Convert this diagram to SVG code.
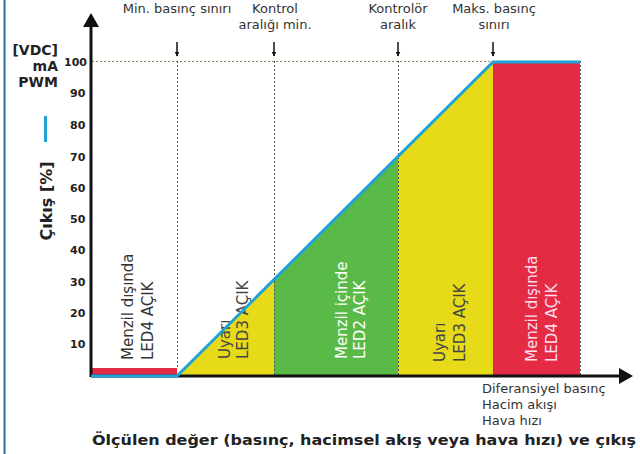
<svg xmlns="http://www.w3.org/2000/svg" width="640" height="454" viewBox="0 0 640 454">
<style>
.t{font-family:"DejaVu Sans","Verdana",sans-serif;fill:#333}
.b{font-weight:bold;fill:#222}
.tick{font-family:"DejaVu Sans",sans-serif;font-weight:bold;font-size:11px;fill:#222}
.unit{font-family:"DejaVu Sans",sans-serif;font-weight:bold;font-size:14px;fill:#222}
.lab{font-family:"DejaVu Sans",sans-serif;font-size:15px}
.dot{stroke:#555;stroke-width:1;stroke-dasharray:2,2;fill:none}
.dot2{stroke:#8a8460;stroke-width:1.2;stroke-dasharray:2,2;fill:none}
.arr{stroke:#111;stroke-width:1.5}
</style>
<defs>
<marker id="ah" viewBox="0 0 10 10" refX="9" refY="5" markerWidth="5" markerHeight="5" orient="auto" markerUnits="userSpaceOnUse"><path d="M0,0 L10,5 L0,10 z" fill="#111"/></marker>
</defs>
<rect width="640" height="454" fill="#fff"/>
<line x1="4.5" y1="0" x2="4.5" y2="454" stroke="#2f6f9e" stroke-width="2"/>

<g id="zone1"><rect x="91" y="368" width="86" height="7" fill="#e52b44"/>
<text class="lab" fill="#333" transform="translate(133,360) rotate(-90)">Menzil dışında</text>
<text class="lab" fill="#333" transform="translate(153,360) rotate(-90)">LED4 AÇIK</text></g>
<g id="zone2"><polygon points="177,376 274,279 274,376" fill="#e6da19"/>
<text class="lab" fill="#444" transform="translate(230,359) rotate(-90)">Uyarı</text>
<text class="lab" fill="#444" transform="translate(248,359) rotate(-90)">LED3 AÇIK</text></g>
<g id="zone3"><polygon points="274,279 398,156 398,376 274,376" fill="#5aba48"/>
<text class="lab" fill="#fff" transform="translate(347,359) rotate(-90)">Menzil içinde</text>
<text class="lab" fill="#fff" transform="translate(365,359) rotate(-90)">LED2 AÇIK</text></g>
<g id="zone4"><polygon points="398,156 493,61 493,376 398,376" fill="#e6da19"/>
<text class="lab" fill="#444" transform="translate(445,362) rotate(-90)">Uyarı</text>
<text class="lab" fill="#444" transform="translate(465,362) rotate(-90)">LED3 AÇIK</text></g>
<g id="zone5"><rect x="493" y="61" width="87" height="315" fill="#e52b44"/>
<text class="lab" fill="#fde" transform="translate(537,362) rotate(-90)">Menzil dışında</text>
<text class="lab" fill="#fde" transform="translate(557,362) rotate(-90)">LED4 AÇIK</text></g>

<g id="gridlines">
<line class="dot2" x1="92" y1="61.5" x2="493" y2="61.5"/>
<line class="dot" x1="177.5" y1="61" x2="177.5" y2="368"/>
<line class="dot" x1="274.5" y1="61" x2="274.5" y2="376"/>
<line class="dot" x1="398.5" y1="61" x2="398.5" y2="376"/>
<line class="dot" x1="493.5" y1="61" x2="493.5" y2="376"/>
<line class="dot" x1="580.5" y1="61" x2="580.5" y2="376"/>
</g>

<g id="connectors">
<line x1="91" y1="376" x2="621" y2="376" stroke="#111" stroke-width="3"/>
<polygon points="633,376 619,368 619,384" fill="#111"/>
<line x1="91" y1="377" x2="91" y2="26" stroke="#111" stroke-width="3"/>
<polygon points="91,13 83,27 99,27" fill="#111"/>
<polyline points="91,376 177,376 493,62 580,62" fill="none" stroke="#1fa3d6" stroke-width="3"/>
<line class="arr" x1="177" y1="42" x2="177" y2="56" marker-end="url(#ah)"/>
<line class="arr" x1="274" y1="42" x2="274" y2="56" marker-end="url(#ah)"/>
<line class="arr" x1="398" y1="42" x2="398" y2="56" marker-end="url(#ah)"/>
<line class="arr" x1="493" y1="42" x2="493" y2="56" marker-end="url(#ah)"/>
</g>

<g id="toplabels" class="t" font-size="13" text-anchor="middle">
<text x="177" y="13">Min. basınç sınırı</text>
<text x="275" y="13">Kontrol</text>
<text x="275" y="29">aralığı min.</text>
<text x="398" y="13">Kontrolör</text>
<text x="398" y="29">aralık</text>
<text x="494" y="13">Maks. basınç</text>
<text x="494" y="29">sınırı</text>
</g>

<g id="yaxislabels">
<text class="unit" x="58" y="55" text-anchor="end">[VDC]</text>
<text class="unit" x="58" y="71" text-anchor="end">mA</text>
<text class="unit" x="58" y="87" text-anchor="end">PWM</text>
<text class="tick" x="64" y="66">100</text>
<text class="tick" x="70" y="97">90</text>
<text class="tick" x="70" y="129">80</text>
<text class="tick" x="70" y="161">70</text>
<text class="tick" x="70" y="192">60</text>
<text class="tick" x="70" y="223">50</text>
<text class="tick" x="70" y="254">40</text>
<text class="tick" x="70" y="286">30</text>
<text class="tick" x="70" y="317">20</text>
<text class="tick" x="70" y="348">10</text>
<line x1="45.5" y1="116" x2="45.5" y2="142" stroke="#1fa3d6" stroke-width="3"/>
<text class="t b" font-size="16" text-anchor="middle" transform="translate(52,201) rotate(-90)">Çıkış [%]</text>
</g>

<g id="xaxislabels" class="t" font-size="13">
<text x="482" y="393">Diferansiyel basınç</text>
<text x="482" y="409">Hacim akışı</text>
<text x="482" y="425">Hava hızı</text>
<text class="b" x="92" y="445" font-size="14" textLength="544" lengthAdjust="spacingAndGlyphs">Ölçülen değer (basınç, hacimsel akış veya hava hızı) ve çıkış</text>
</g>
</svg>
